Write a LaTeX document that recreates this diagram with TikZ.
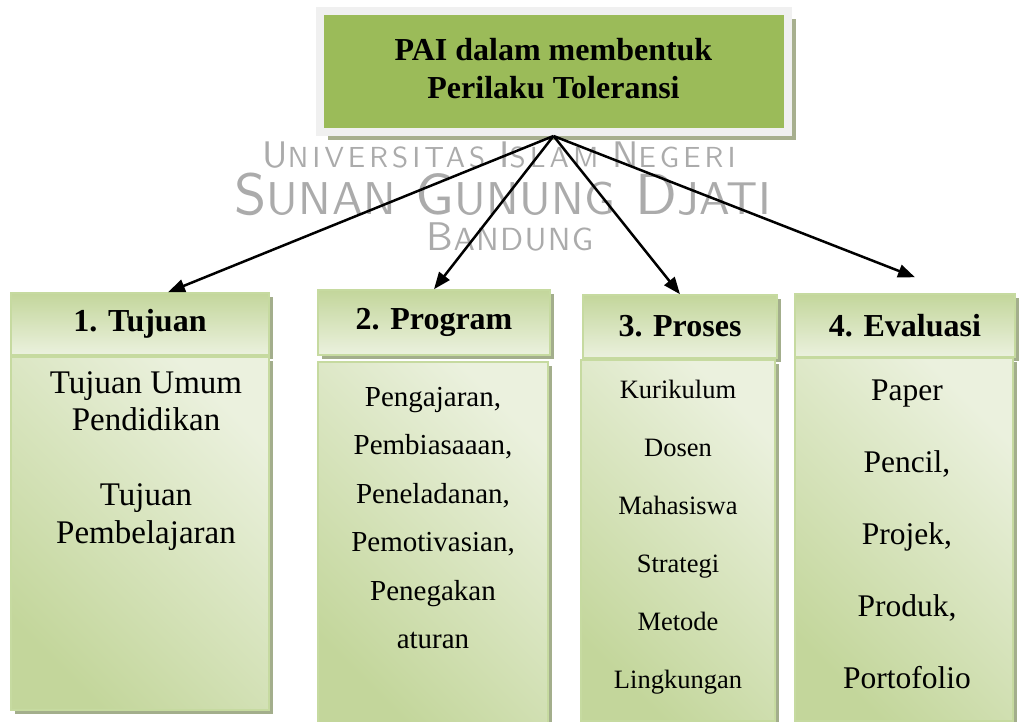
\documentclass[tikz,border=0pt]{standalone}
\usepackage{fontspec}
\setmainfont{Liberation Serif}
\newfontfamily\wmfont{lmsans10-regular.otf}
\usetikzlibrary{arrows.meta,positioning,shadows}
\definecolor{paigreen}{HTML}{9BBB59}
\definecolor{paiframe}{HTML}{F0F0F0}
\definecolor{paishadow}{HTML}{A7AF8E}
\definecolor{boxdark}{HTML}{C3D69B}
\definecolor{boxlight}{HTML}{EBF1DE}
\definecolor{boxedge}{HTML}{C6DAA0}
\definecolor{boxshadow}{HTML}{A3AE8C}
\definecolor{wmgray}{HTML}{ABABAB}
\newcommand{\wmword}[4]{{\fontsize{#1}{#1}\selectfont #2}{\fontsize{#3}{#3}\selectfont #4}}

\begin{document}
\begin{tikzpicture}[x=1pt,y=1pt,
  paibox/.style={fill=paigreen, draw=paiframe, line width=8pt, minimum width=468pt, minimum height=121pt,
    inner sep=0pt, font=\bfseries\fontsize{32}{38}\selectfont,
    drop shadow={shadow xshift=8pt, shadow yshift=-8pt, fill=paishadow, opacity=1}},
  headbox/.style={draw=boxedge, line width=1.5pt, top color=boxdark, bottom color=boxlight,
    inner sep=0pt, font=\bfseries\fontsize{32}{36}\selectfont,
    drop shadow={shadow xshift=4pt, shadow yshift=-4pt, fill=boxshadow, opacity=1}},
  bodybox/.style={draw=boxedge, line width=1.5pt, bottom color=boxdark, top color=boxlight, shading angle=-45,
    inner sep=0pt,
    drop shadow={shadow xshift=4pt, shadow yshift=-4pt, fill=boxshadow, opacity=1}},
  bodytext/.style={align=center, inner sep=0pt},
  wmtext/.style={text=wmgray, font=\wmfont, inner sep=0pt},
  link/.style={-{Triangle[length=17pt,width=13pt]}, line width=2.5pt}]
  \useasboundingbox (0,0) rectangle (1019,-722);

  % watermark
  \node[wmtext] (wm1) at (499,-155) {\addfontfeature{LetterSpace=14}%
    \wmword{37}{U}{29}{NIVERSITAS}\hspace{14pt}\wmword{37}{I}{29}{SLAM}\hspace{14pt}\wmword{37}{N}{29}{EGERI}};
  \node[wmtext] (wm2) at (503,-194) {\addfontfeature{LetterSpace=1}%
    \wmword{58}{S}{46}{UNAN}\hspace{20pt}\wmword{58}{G}{46}{UNUNG}\hspace{20pt}\wmword{58}{D}{46}{JATI}};
  \node[wmtext] (wm3) at (510,-237) {\addfontfeature{LetterSpace=4}\wmword{40}{B}{32}{ANDUNG}};

  % top box
  \node[paibox] (pai) at (553.5,-71.5)
    {\raisebox{10pt}{\begin{tabular}{@{}c@{}}PAI dalam membentuk\\Perilaku Toleransi\end{tabular}}};

  % headers
  \node[headbox, minimum width=258pt, minimum height=62pt] (h1) at (140,-324) {1. Tujuan};
  \node[headbox, minimum width=232pt, minimum height=65pt] (h2) at (434,-322.5) {2. Program};
  \node[headbox, minimum width=194pt, minimum height=63pt] (h3) at (680,-326.5) {3. Proses};
  \node[headbox, minimum width=220pt, minimum height=63pt] (h4) at (905,-325.5) {4. Evaluasi};

  % bodies
  \node[bodybox, minimum width=258pt, minimum height=353pt] (b1) at (140,-533.5) {};
  \node[bodybox, minimum width=230pt, minimum height=362pt] (b2) at (433,-543) {};
  \node[bodybox, minimum width=194pt, minimum height=361pt] (b3) at (678,-540.5) {};
  \node[bodybox, minimum width=218pt, minimum height=363pt] (b4) at (904,-539.5) {};

  \node[bodytext, font=\fontsize{33}{37.5}\selectfont] (t1) at (146,-461)
    {Tujuan Umum\\Pendidikan\\[37.5pt]Tujuan\\Pembelajaran};
  \node[bodytext, font=\fontsize{29}{48.5}\selectfont] (t2) at (433,-518)
    {Pengajaran,\\Pembiasaaan,\\Peneladanan,\\Pemotivasian,\\Penegakan\\aturan};
  \node[bodytext, font=\fontsize{26.5}{58}\selectfont] (t3) at (678,-537)
    {Kurikulum\\Dosen\\Mahasiswa\\Strategi\\Metode\\Lingkungan};
  \node[bodytext, font=\fontsize{31.5}{72}\selectfont] (t4) at (907,-534)
    {Paper\\Pencil,\\Projek,\\Produk,\\Portofolio};

  % arrows
  \draw[link] (pai.south) -- ([xshift=28pt]h1.north);
  \draw[link] (pai.south) -- (h2.north);
  \draw[link] (pai.south) -- (h3.north);
  \draw[link] (pai.south) -- ([xshift=10pt,yshift=16pt]h4.north);
\end{tikzpicture}
\end{document}
